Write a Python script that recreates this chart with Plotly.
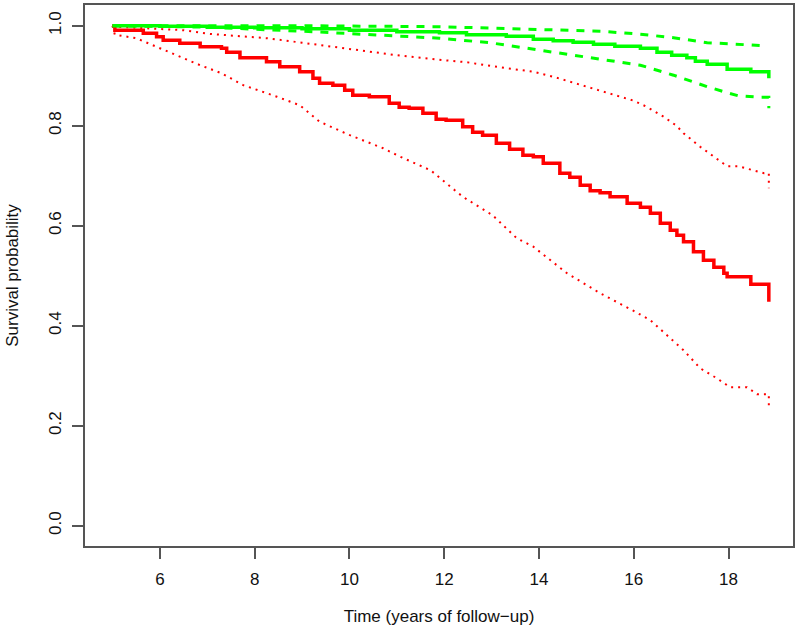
import plotly.graph_objects as go

# Group A (red): Kaplan-Meier estimate and pointwise confidence limits
red_t = [5.0, 5.05, 5.65, 5.93, 6.07, 6.42, 6.85, 7.3, 7.41, 7.69, 8.25, 8.53, 8.95, 9.23, 9.37,
         9.65, 9.9, 10.07, 10.42, 10.84, 11.05, 11.26, 11.55, 11.83, 12.04, 12.39, 12.6, 12.81,
         13.1, 13.38, 13.66, 13.88, 14.09, 14.44, 14.65, 14.87, 15.08, 15.29, 15.5, 15.86, 16.14,
         16.35, 16.56, 16.77, 16.91, 17.05, 17.26, 17.47, 17.69, 17.9, 17.97, 18.47, 18.85]
red_s = [1.0, 0.991, 0.985, 0.978, 0.971, 0.965, 0.958, 0.955, 0.947, 0.936, 0.928, 0.918, 0.908,
         0.895, 0.885, 0.881, 0.871, 0.861, 0.858, 0.845, 0.837, 0.835, 0.825, 0.813, 0.811, 0.798,
         0.787, 0.781, 0.765, 0.753, 0.741, 0.738, 0.725, 0.705, 0.697, 0.681, 0.670, 0.666, 0.658,
         0.645, 0.637, 0.625, 0.605, 0.591, 0.581, 0.568, 0.548, 0.531, 0.517, 0.505, 0.498, 0.483,
         0.448]

red_up_t = [5.0, 5.05, 5.5, 6.5, 7.0, 7.5, 8.25, 9.0, 9.65, 10.3, 11.0, 12.0, 12.47, 13.31, 13.88,
            14.3, 14.72, 15.29, 15.78, 16.0, 16.27, 16.63, 16.9, 17.05, 17.4, 17.75, 17.97, 18.2,
            18.47, 18.75, 18.85, 18.85]
red_up_s = [1.0, 0.998, 0.996, 0.991, 0.984, 0.980, 0.975, 0.966, 0.958, 0.950, 0.941, 0.931,
            0.927, 0.915, 0.908, 0.898, 0.886, 0.869, 0.855, 0.850, 0.838, 0.818, 0.800, 0.785,
            0.758, 0.733, 0.719, 0.719, 0.712, 0.705, 0.705, 0.675]

red_lo_t = [5.0, 5.05, 5.5, 6.0, 6.4, 6.85, 7.3, 7.76, 8.47, 8.95, 9.37, 10.01, 10.71, 11.07,
            11.71, 12.39, 13.02, 13.53, 13.88, 14.59, 15.29, 15.7, 15.99, 16.35, 16.7, 17.05,
            17.4, 17.75, 18.03, 18.39, 18.6, 18.77, 18.85, 18.85]
red_lo_s = [1.0, 0.982, 0.975, 0.955, 0.940, 0.921, 0.905, 0.881, 0.858, 0.841, 0.808, 0.781,
            0.755, 0.738, 0.711, 0.658, 0.621, 0.575, 0.558, 0.505, 0.465, 0.445, 0.430, 0.411,
            0.381, 0.351, 0.315, 0.295, 0.277, 0.277, 0.263, 0.263, 0.263, 0.233]

# Group B (green): Kaplan-Meier estimate and pointwise confidence limits
grn_t = [5.0, 6.0, 7.0, 8.0, 9.0, 10.0, 11.0, 11.9, 12.47, 13.31, 13.88, 14.3, 14.72, 15.15,
         15.6, 16.14, 16.49, 16.8, 17.12, 17.3, 17.55, 17.97, 18.47, 18.85]
grn_s = [1.0, 0.999, 0.997, 0.996, 0.994, 0.991, 0.988, 0.986, 0.982, 0.979, 0.973, 0.970,
         0.967, 0.963, 0.959, 0.955, 0.947, 0.941, 0.936, 0.929, 0.923, 0.913, 0.908, 0.895]

grn_up_t = [5.0, 9.0, 11.9, 14.02, 15.3, 16.14, 16.84, 17.55, 18.25, 18.75]
grn_up_s = [1.0, 1.0, 0.998, 0.992, 0.989, 0.983, 0.976, 0.966, 0.963, 0.960]

grn_lo_t = [5.0, 7.0, 9.23, 11.0, 11.9, 12.96, 14.02, 15.08, 16.14, 16.84, 17.2, 17.55, 17.97,
            18.2, 18.67, 18.85, 18.85]
grn_lo_s = [1.0, 0.997, 0.988, 0.980, 0.975, 0.966, 0.951, 0.936, 0.921, 0.901, 0.889, 0.878,
            0.866, 0.860, 0.857, 0.857, 0.835]

x_ticks = [6, 8, 10, 12, 14, 16, 18]
y_ticks = [0.0, 0.2, 0.4, 0.6, 0.8, 1.0]

RED = "#FF0000"
GREEN = "#00FF00"
FONT = "Liberation Sans, Arial, sans-serif"

fig = go.Figure()
fig.add_trace(go.Scatter(x=red_up_t, y=red_up_s, mode="lines",
                         line=dict(color=RED, width=2, dash="2px,5px"), showlegend=False))
fig.add_trace(go.Scatter(x=red_lo_t, y=red_lo_s, mode="lines",
                         line=dict(color=RED, width=2, dash="2px,5px"), showlegend=False))
fig.add_trace(go.Scatter(x=grn_up_t, y=grn_up_s, mode="lines",
                         line=dict(color=GREEN, width=3, dash="8px,8px"), showlegend=False))
fig.add_trace(go.Scatter(x=grn_lo_t, y=grn_lo_s, mode="lines",
                         line=dict(color=GREEN, width=3, dash="8px,8px"), showlegend=False))
fig.add_trace(go.Scatter(x=red_t, y=red_s, mode="lines", line_shape="hv",
                         line=dict(color=RED, width=3.5), showlegend=False))
fig.add_trace(go.Scatter(x=grn_t, y=grn_s, mode="lines", line_shape="hv",
                         line=dict(color=GREEN, width=3.5), showlegend=False))

axis_common = dict(showgrid=False, zeroline=False, showline=True, mirror=True,
                   linecolor="#555555", linewidth=1.5, ticks="outside", ticklen=11,
                   tickwidth=1.5, tickcolor="#555555", automargin=False,
                   tickfont=dict(family=FONT, size=17, color="#111111"))

fig.update_xaxes(range=[4.42, 19.36], tickvals=x_ticks, ticktext=[str(v) for v in x_ticks],
                 title=dict(text="Time (years of follow\u2212up)",
                            font=dict(family=FONT, size=17, color="#111111"), standoff=22),
                 ticklabelstandoff=6, **axis_common)
fig.update_yaxes(range=[-0.0406, 1.0414], tickvals=y_ticks,
                 ticktext=[f"{v:.1f}" for v in y_ticks], tickangle=-90,
                 title=dict(text="Survival probability",
                            font=dict(family=FONT, size=17, color="#111111"), standoff=24),
                 ticklabelstandoff=4, **axis_common)

fig.update_layout(width=800, height=635, margin=dict(l=85, r=7, t=5, b=89, autoexpand=False),
                  plot_bgcolor="white", paper_bgcolor="white", hovermode=False)

fig.write_html("out.html", config={"displayModeBar": False},
               post_script="document.body.style.margin='0';")
